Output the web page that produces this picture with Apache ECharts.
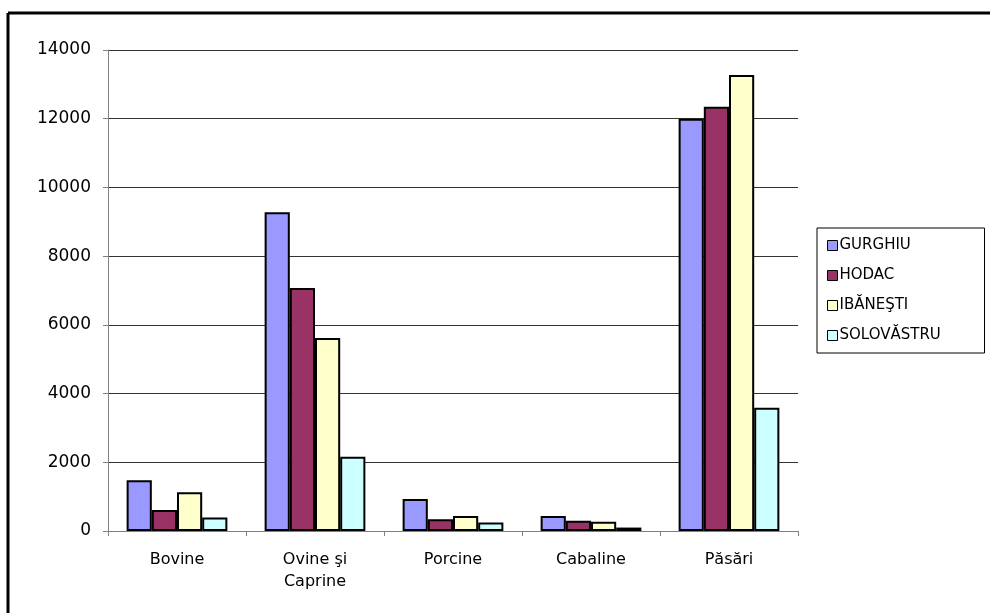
<!DOCTYPE html>
<html>
<head>
<meta charset="utf-8">
<script src="https://cdn.jsdelivr.net/npm/echarts@6/dist/echarts.min.js"></script>
<style>
  html, body { margin: 0; padding: 0; background: #fff; }
  #main { width: 990px; height: 613px; }
</style>
</head>
<body>
<div id="main"></div>
<script>
var categorii = ['Bovine', 'Ovine şi\nCaprine', 'Porcine', 'Cabaline', 'Păsări'];
var gurghiu = [1480, 9280, 930, 440, 12000];
var hodac = [610, 7070, 340, 300, 12350];
var ibanesti = [1130, 5620, 440, 270, 13270];
var solovastru = [390, 2160, 250, 100, 3590];
var culori = ['#9999FF', '#993366', '#FFFFCC', '#CCFFFF'];

var font = 'DejaVu Sans';

function serie(nume, date, i) {
  return {
    name: nume,
    type: 'bar',
    data: date,
    barGap: '0%',
    barCategoryGap: '27%',
    itemStyle: { color: culori[i], borderColor: '#000', borderWidth: 2 }
  };
}

var myChart = echarts.init(document.getElementById('main'));
var option = {
  animation: false,
  backgroundColor: '#fff',
  textStyle: { fontFamily: font },
  graphic: [
    { type: 'line', shape: { x1: 8, y1: 13, x2: 990, y2: 13 }, style: { stroke: '#000', lineWidth: 3 } },
    { type: 'line', shape: { x1: 8, y1: 13, x2: 8, y2: 613 }, style: { stroke: '#000', lineWidth: 3 } }
  ],
  grid: { left: 108, right: 192, top: 50, bottom: 82 },
  legend: {
    orient: 'vertical',
    left: 817,
    top: 228,
    padding: [9, 10, 9, 10],
    borderColor: '#000',
    borderWidth: 1,
    itemWidth: 10,
    itemHeight: 10,
    itemGap: 13,
    icon: 'rect',
    itemStyle: { borderColor: '#000', borderWidth: 1 },
    textStyle: { fontFamily: font, fontSize: 15, color: '#000', width: 135, lineHeight: 17, padding: [0, 0, 0, -3] },
    data: ['GURGHIU', 'HODAC', 'IBĂNEŞTI', 'SOLOVĂSTRU']
  },
  xAxis: {
    type: 'category',
    data: categorii,
    axisLine: { lineStyle: { color: '#808080', width: 1 } },
    axisTick: { show: true, length: 5, lineStyle: { color: '#808080' } },
    axisLabel: { fontFamily: font, fontSize: 16, color: '#000', margin: 18, lineHeight: 22 }
  },
  yAxis: {
    type: 'value',
    min: 0,
    max: 14000,
    interval: 2000,
    axisLine: { show: true, lineStyle: { color: '#808080', width: 1 } },
    axisTick: { show: true, length: 5, lineStyle: { color: '#808080' } },
    axisLabel: { fontFamily: font, fontSize: 17, color: '#000', margin: 17, formatter: function (v) { return String(v); } },
    splitLine: { lineStyle: { color: '#333', width: 1 } }
  },
  series: [
    serie('GURGHIU', gurghiu, 0),
    serie('HODAC', hodac, 1),
    serie('IBĂNEŞTI', ibanesti, 2),
    serie('SOLOVĂSTRU', solovastru, 3)
  ]
};
myChart.setOption(option);
</script>
</body>
</html>
